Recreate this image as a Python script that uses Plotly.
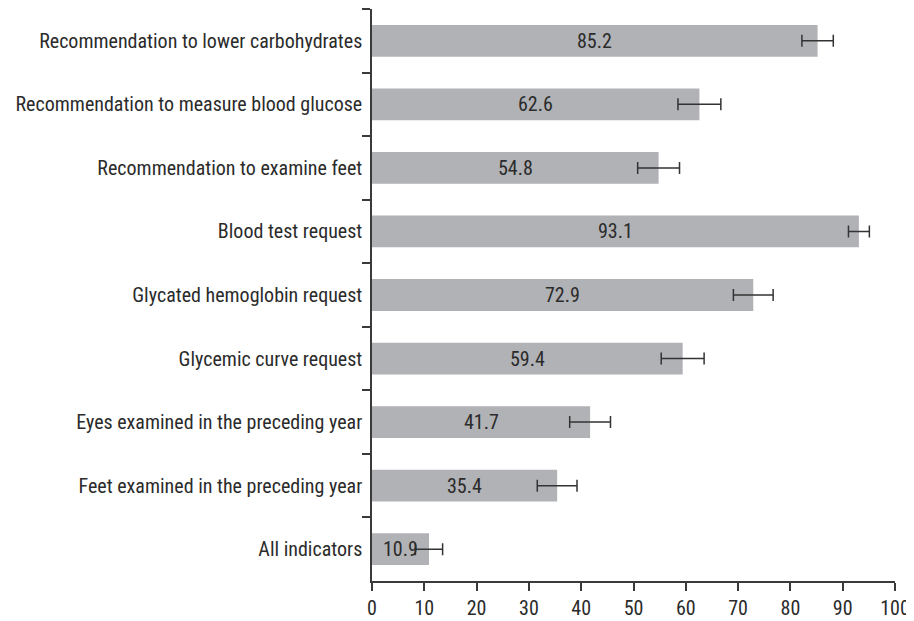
import plotly.graph_objects as go

categories = [
    "Recommendation to lower carbohydrates",
    "Recommendation to measure blood glucose",
    "Recommendation to examine feet",
    "Blood test request",
    "Glycated hemoglobin request",
    "Glycemic curve request",
    "Eyes examined in the preceding year",
    "Feet examined in the preceding year",
    "All indicators",
]
values = [85.2, 62.6, 54.8, 93.1, 72.9, 59.4, 41.7, 35.4, 10.9]
errors = [3.0, 4.1, 4.0, 2.0, 3.8, 4.1, 3.9, 3.8, 2.6]
x_ticks = [0, 10, 20, 30, 40, 50, 60, 70, 80, 90, 100]

FONT = "Roboto Condensed, Liberation Sans, sans-serif"
AX = "#3a3a3a"
TXT = "#2b2b2b"
FS = 20

fig = go.Figure()
fig.add_trace(go.Bar(
    x=values, y=categories, orientation="h",
    marker=dict(color="#b1b2b6", line=dict(width=0)),
    width=0.5,
    error_x=dict(type="data", array=errors, visible=True,
                 color="#333333", thickness=1.5, width=6),
    hoverinfo="skip",
))

for v, c in zip(values, categories):
    fig.add_annotation(x=v / 2, y=c, text=f"{v:.1f}", showarrow=False,
                       font=dict(family=FONT, size=FS, color=TXT),
                       xanchor="center", yanchor="middle")

# page body adds an 8px offset at left/top
fig.update_layout(
    width=906, height=613,
    margin=dict(l=364, r=19, t=1, b=40, autoexpand=False),
    plot_bgcolor="white", paper_bgcolor="white",
    showlegend=False,
    font=dict(family=FONT, size=FS, color=TXT),
)
fig.update_xaxes(
    range=[0, 100], tickvals=x_ticks, showgrid=False, zeroline=False,
    showline=True, linecolor=AX, linewidth=1.5,
    ticks="outside", ticklen=8, tickcolor=AX, tickwidth=1.5,
    tickfont=dict(family=FONT, size=FS, color=TXT),
    automargin=False, ticklabeloverflow="allow",
)
fig.update_yaxes(
    type="category", categoryorder="array", categoryarray=categories,
    range=[8.5, -0.5], tickson="boundaries",
    showgrid=False, zeroline=False,
    showline=True, linecolor=AX, linewidth=1.5,
    ticks="outside", ticklen=8, tickcolor=AX, tickwidth=1.5,
    tickfont=dict(family=FONT, size=FS, color=TXT),
    ticklabelstandoff=4,
    automargin=False,
)

fig.write_html("out.html")
